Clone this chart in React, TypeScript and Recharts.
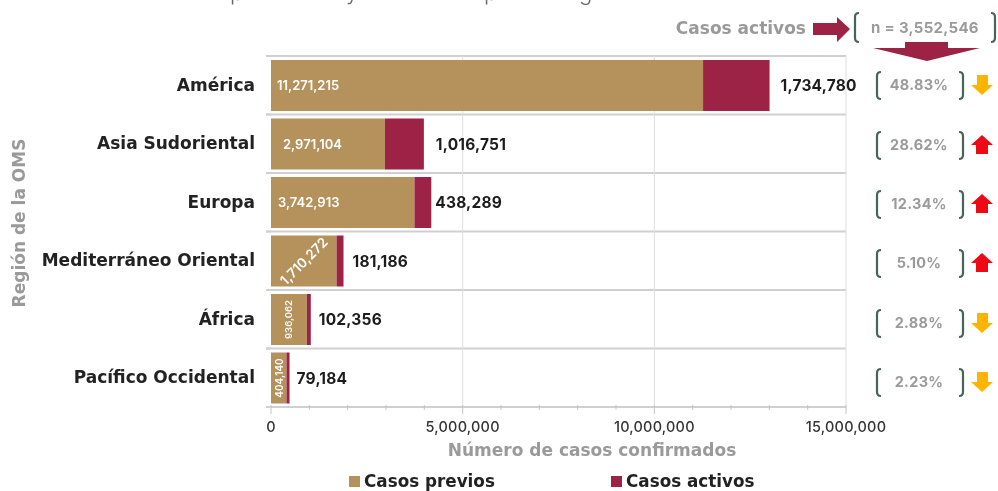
import React from 'react';
import { BarChart, Bar, XAxis, YAxis, CartesianGrid, Legend, LabelList } from 'recharts';

const regions = ['América', 'Asia Sudoriental', 'Europa', 'Mediterráneo Oriental', 'África', 'Pacífico Occidental'];
const previos = [11271215, 2971104, 3742913, 1710272, 936062, 404140];
const activos = [1734780, 1016751, 438289, 181186, 102356, 79184];
const porcentajes = ['48.83%', '28.62%', '12.34%', '5.10%', '2.88%', '2.23%'];
const tendencia = ['down', 'up', 'up', 'up', 'down', 'down'];
const totalActivos = 'n = 3,552,546';
const xMax = 15000000;
const xTicks = [0, 1, 2, 3, 4, 5, 6, 7, 8, 9, 10, 11, 12, 13, 14, 15].map((m) => m * 1000000);
const xGridValues = [5000000, 10000000, 15000000];

const data = regions.map((region, i) => ({ region, previos: previos[i], activos: activos[i] }));

const FONT = 'Inter, "Open Sans", sans-serif';
const WIDE = '"DejaVu Sans", sans-serif';
const TAN = '#B5925C';
const CRIMSON = '#9C2246';
const GRAYTXT = '#9a9a9a';
const BRACKET = '#46645a';

const W = 998;
const H = 491;
const prevLabelDx = [6, 12, 7, 0, 0, 0];
const activeLabelDx = [11, 12, 4, 9, 8, 7];
const rowY = [85, 145, 204, 263, 323, 382];

const fmt = (v: number) => v.toLocaleString('en-US');

const PrevLabel = (props: any) => {
  const { x, y, width, height, value, index } = props;
  const cy = y + height / 2;
  const common = { fill: '#fff', fontWeight: 600, fontFamily: FONT } as const;
  if (index <= 2) {
    return (
      <text x={x + prevLabelDx[index]} y={cy} dy={4.5} fontSize={13} {...common}>
        {fmt(value)}
      </text>
    );
  }
  const cx = x + width / 2;
  if (index === 3) {
    return (
      <text x={cx} y={cy} textAnchor="middle" dominantBaseline="central" fontSize={13.5} transform={`rotate(-45 ${cx} ${cy})`} {...common}>
        {fmt(value)}
      </text>
    );
  }
  return (
    <text x={cx} y={cy} textAnchor="middle" dominantBaseline="central" fontSize={index === 4 ? 9.5 : 10} transform={`rotate(-90 ${cx} ${cy})`} {...common}>
      {fmt(value)}
    </text>
  );
};

const ActiveLabel = (props: any) => {
  const { x, y, width, height, value, index } = props;
  return (
    <text x={x + width + activeLabelDx[index]} y={y + height / 2} dy={5.5} fontSize={15.5} letterSpacing={0.2} fontWeight={700} fill="#1c1c1c" fontFamily={FONT}>
      {fmt(value)}
    </text>
  );
};

const XTick = (props: any) => {
  const { x, y, payload } = props;
  const major = payload.value % 5000000 === 0;
  return (
    <g>
      <line x1={x} x2={x} y1={y - 8} y2={y + (major ? 1 : -3)} stroke="#c4c4c4" strokeWidth={1} />
      {major && (
        <text x={x} y={y + 19} textAnchor="middle" fontSize={14.5} fontWeight={500} letterSpacing={0.2} fill="#333" fontFamily={FONT}>
          {fmt(payload.value)}
        </text>
      )}
    </g>
  );
};

const YTick = (props: any) => {
  const { x, y, payload, height } = props;
  const half = height / regions.length / 2;
  return (
    <g>
      <line x1={x + 3} x2={x + 8} y1={y - half} y2={y - half} stroke="#d0d0d0" strokeWidth={2} />
      <line x1={x + 3} x2={x + 8} y1={y + half} y2={y + half} stroke="#d0d0d0" strokeWidth={2} />
      <text x={x - 8} y={y} dy={5.5} textAnchor="end" fontSize={17} fontWeight={700} fill="#222" fontFamily={WIDE}>
        {payload.value}
      </text>
    </g>
  );
};

const Bracket = ({ x, y1, y2, dir }: { x: number; y1: number; y2: number; dir: number }) => (
  <path
    d={`M ${x + dir * 4} ${y1} Q ${x} ${y1} ${x} ${y1 + 4} L ${x} ${y2 - 4} Q ${x} ${y2} ${x + dir * 4} ${y2}`}
    fill="none"
    stroke={BRACKET}
    strokeWidth={2.2}
  />
);

const TrendArrow = ({ y, kind }: { y: number; kind: string }) =>
  kind === 'up' ? (
    <polygon
      points={`982,${y - 10} 993,${y} 988,${y} 988,${y + 9} 976,${y + 9} 976,${y} 971,${y}`}
      fill="#EE0A14"
    />
  ) : (
    <polygon
      points={`977,${y - 10} 988,${y - 10} 988,${y} 993,${y} 982,${y + 10} 971,${y} 977,${y}`}
      fill="#FFB400"
    />
  );

const LegendContent = () => (
  <div style={{ position: 'relative', width: 430, height: 22, fontFamily: WIDE, fontWeight: 700, fontSize: 16.8, color: '#222' }}>
    <span style={{ position: 'absolute', left: 9, top: 6, width: 11, height: 11, background: TAN }} />
    <span style={{ position: 'absolute', left: 24, top: 1 }}>Casos previos</span>
    <span style={{ position: 'absolute', left: 271, top: 6, width: 11, height: 11, background: CRIMSON }} />
    <span style={{ position: 'absolute', left: 286, top: 1 }}>Casos activos</span>
  </div>
);

export default function App() {
  return (
    <div style={{ position: 'absolute', left: 0, top: 0, width: W, height: H, background: '#fff', filter: 'blur(0.5px)' }}>
      <BarChart
        width={W}
        height={H}
        data={data}
        layout="vertical"
        margin={{ top: 56, right: 152, bottom: 54, left: 0 }}
        barCategoryGap={4}
      >
        <CartesianGrid
          stroke="#d0d0d0"
          strokeWidth={2}
          vertical={false}
          horizontalCoordinatesGenerator={({ offset }: any) =>
            regions.map((_, i) => offset.top + (i * offset.height) / regions.length).concat(offset.top + offset.height)
          }
        />
        <CartesianGrid
          stroke="#dedede"
          strokeWidth={1}
          horizontal={false}
          verticalCoordinatesGenerator={({ offset }: any) => xGridValues.map((v) => offset.left + (v / xMax) * offset.width)}
        />
        <XAxis
          type="number"
          domain={[0, xMax]}
          ticks={xTicks}
          interval={0}
          height={30}
          axisLine={false}
          tickLine={false}
          tick={<XTick />}
          tickMargin={0}
        />
        <YAxis type="category" dataKey="region" width={271} axisLine={false} tickLine={false} tick={<YTick />} interval={0} />
        <Bar dataKey="previos" stackId="a" fill={TAN} isAnimationActive={false}>
          <LabelList dataKey="previos" content={<PrevLabel />} />
        </Bar>
        <Bar dataKey="activos" stackId="a" fill={CRIMSON} isAnimationActive={false}>
          <LabelList dataKey="activos" content={<ActiveLabel />} />
        </Bar>
        <Legend
          layout="horizontal"
          verticalAlign="middle"
          align="center"
          wrapperStyle={{ left: 340, top: 470, width: 430, height: 22 }}
          content={<LegendContent />}
        />

        <text x={19} y={223} textAnchor="middle" dominantBaseline="central" transform="rotate(-90 19 223)" fontSize={17} fontWeight={700} fill={GRAYTXT} fontFamily={WIDE}>
          Región de la OMS
        </text>
        <text x={592} y={456} textAnchor="middle" fontSize={17} fontWeight={700} fill={GRAYTXT} fontFamily={WIDE}>
          Número de casos confirmados
        </text>

        <text y={0} fontSize={22} fill="#666" fontFamily={FONT} fontWeight={300}>
          <tspan x={230}>p</tspan>
          <tspan x={346}>y</tspan>
          <tspan x={484}>p</tspan>
          <tspan x={579}>g</tspan>
        </text>

        <text x={806} y={34} textAnchor="end" fontSize={17} fontWeight={700} fill={GRAYTXT} fontFamily={WIDE}>
          Casos activos
        </text>
        <polygon points="813,23 837,23 837,17 850,29 837,42 837,35 813,35" fill={CRIMSON} />
        <Bracket x={855} y1={13} y2={42} dir={1} />
        <Bracket x={995} y1={13} y2={42} dir={-1} />
        <text x={925} y={33} textAnchor="middle" fontSize={15} letterSpacing={0.3} fontWeight={700} fill={GRAYTXT} fontFamily={FONT}>
          {totalActivos}
        </text>
        <polygon points="905,42 948,42 948,48 980,48 927,61 873,48 905,48" fill={CRIMSON} />

        {porcentajes.map((p, i) => (
          <g key={regions[i]}>
            <Bracket x={877} y1={rowY[i] - 13} y2={rowY[i] + 14} dir={1} />
            <Bracket x={963} y1={rowY[i] - 13} y2={rowY[i] + 14} dir={-1} />
            <text x={919} y={rowY[i]} dy={5} textAnchor="middle" fontSize={14.5} letterSpacing={0.3} fontWeight={700} fill={GRAYTXT} fontFamily={FONT}>
              {p}
            </text>
            <TrendArrow y={rowY[i]} kind={tendencia[i]} />
          </g>
        ))}
      </BarChart>
    </div>
  );
}
